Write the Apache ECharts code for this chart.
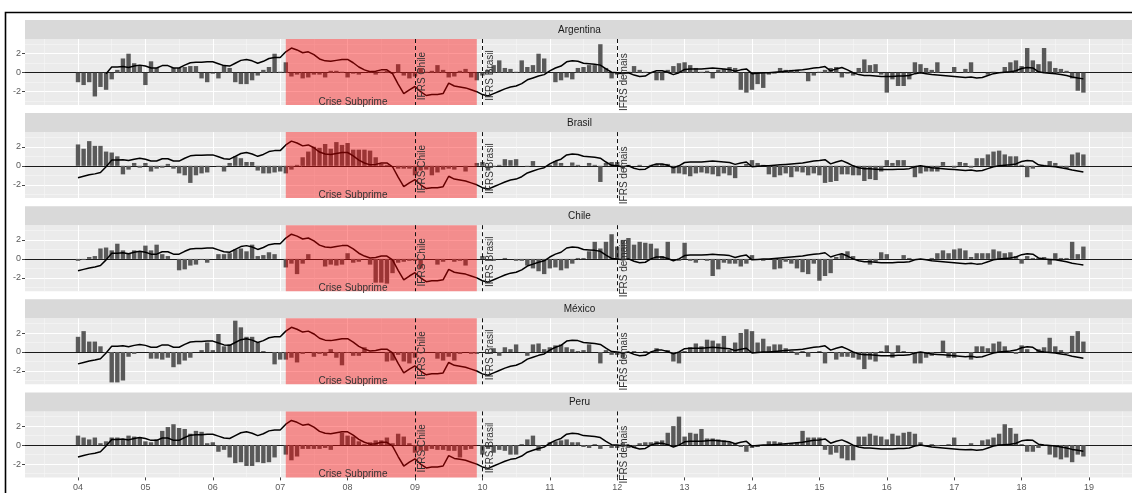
<!DOCTYPE html>
<html><head><meta charset="utf-8">
<script src="https://cdn.jsdelivr.net/npm/echarts@6/dist/echarts.min.js"></script>
<style>html,body{margin:0;padding:0;background:#fff}#c{width:1132px;height:493px}</style>
</head><body><div id="c"></div>
<script>
// ---------------- data ----------------
const countries = ['Argentina', 'Brasil', 'Chile', 'México', 'Peru'];
const firstYear = 2004;           // monthly data, Jan 2004 .. Dec 2018
const nMonths = 180;
const yearTicks = [2004,2005,2006,2007,2008,2009,2010,2011,2012,2013,2014,2015,2016,2017,2018,2019];
const yearLabels = ['04','05','06','07','08','09','10','11','12','13','14','15','16','17','18','19'];
const yMajorTicks = [-2, 0, 2];
const yMinorTicks = [-3, -1, 1, 3];

const argentina = [
 -1.0,-1.3,-1.0,-2.5,-1.5,-1.8,-0.7, 0.3, 1.5, 2.0, 1.0, 0.8,
 -1.3, 1.2, 0.5, 0.0, 0.0, 0.5, 0.5, 0.6, 0.7, 0.7,-0.6,-1.0,
 -0.1,-0.6, 0.8, 0.5,-1.0,-1.2,-1.2,-0.8,-0.3, 0.3, 0.6, 2.0,
  0.1, 1.1,-0.4,-0.2,-0.6,-0.5,-0.2,-0.2,-0.5, 0.2, 0.2, 0.1,
 -0.5,-0.1,-0.2, 0.0, 0.2,-0.2, 0.1, 0.2,-0.1, 0.9,-0.3,-0.6,
 -0.4, 0.5, 0.1, 0.2, 0.8, 0.3,-0.5,-0.4, 0.2, 0.4,-0.5,-0.8,
 -0.3, 0.3, 0.8, 1.3, 0.5, 0.4, 0.1, 1.3, 0.6, 0.8, 2.0, 1.5,
  0.0,-1.0,-0.8,-0.5,-0.7, 0.5, 0.6, 0.8, 0.8, 3.0, 0.5,-0.6,
 -0.2, 0.0, 0.1, 0.7, 0.3, 0.1, 0.0,-0.8,-0.8, 0.3, 0.7, 1.0,
  1.1, 0.8, 0.5, 0.1, 0.2,-0.6, 0.3, 0.4, 0.6, 0.5,-1.8,-2.1,
 -1.8,-1.2,-1.6,-0.2,-0.1, 0.5, 0.3, 0.3, 0.3, 0.1,-0.9,-0.3,
  0.1, 0.3, 0.5, 0.6,-0.5,-0.1,-0.3, 0.5, 1.4, 0.8, 0.9,-0.2,
 -2.1,-0.7,-1.4,-1.4,-0.7, 1.1, 0.9, 0.5, 0.3, 1.1, 0.0, 0.0,
  0.6, 0.0, 0.4, 1.1, 0.0, 0.0,-0.2, 0.1, 0.0, 0.6, 1.1, 1.3,
  0.7, 2.6, 1.3, 0.9, 2.6, 1.2, 0.5, 0.4, 0.2,-0.6,-1.9,-2.1
];
const brasil = [
  2.25,1.8, 2.6, 2.1, 2.1, 1.5, 1.4, 1.0,-0.9,-0.4, 0.3,-0.2,
  0.3,-0.6,-0.3,-0.2, 0.2,-0.3,-0.8,-1.0,-1.8,-1.0,-0.8,-0.7,
  0.0,-0.1,-0.6, 0.3, 1.0, 0.8, 0.4, 0.4,-0.5,-0.8,-0.8,-0.7,
 -0.6,-0.8,-0.4, 0.1, 0.9, 1.5, 2.0, 1.9, 2.3, 1.8, 2.5, 2.2,
  2.4, 1.7, 1.7, 1.7, 1.6, 0.9, 0.2, 0.1, 0.0,-0.3,-0.3,-0.3,
 -1.0,-0.5,-0.4,-1.0,-0.7,-0.4,-0.3,-0.4, 0.0,-0.6, 0.0, 0.3,
  0.4,-0.5,-0.1, 0.1, 0.7, 0.6, 0.7, 0.0,-0.1, 0.5, 0.0, 0.0,
  0.1, 0.5, 0.3, 0.0, 0.35,0.1, 0.0, 0.3, 0.1,-1.7, 0.3, 0.4,
  0.4,-0.3, 0.1, 0.0, 0.1, 0.0, 0.1, 0.2, 0.2, 0.2,-0.8,-0.8,
 -0.9,-1.1,-0.8,-0.7,-0.8,-0.9,-1.1,-0.8,-1.0,-1.3, 0.0, 0.2,
  0.6, 0.3, 0.1,-0.9,-1.2,-1.0,-0.8,-1.2,-0.6,-0.7,-1.0,-0.8,
 -1.0,-1.8,-1.7,-1.6,-0.9,-0.9,-1.0,-1.0,-1.6,-1.4,-1.5,-0.6,
  0.6, 0.3, 0.6, 0.6, 0.0,-1.2,-0.8,-0.6,-0.6,-0.6, 0.4, 0.0,
 -0.2, 0.4, 0.3,-0.2, 0.8, 0.8, 1.2, 1.5, 1.6, 1.2, 1.0, 1.0,
  0.1,-1.2,-0.3, 0.0, 0.1, 0.5, 0.3,-0.1,-0.3, 1.2, 1.4, 1.2
];
const chile = [
 -0.2,-0.1, 0.2, 0.3, 1.1, 1.2, 0.9, 1.6, 0.9, 0.6, 0.9, 0.8,
  1.4, 0.9, 1.5, 0.5, 0.3, 0.0,-1.2,-1.1,-0.7,-0.6,-0.1,-0.4,
  0.0, 0.5, 0.5, 0.6, 1.0, 1.1, 0.8, 1.5, 0.3, 0.4, 0.7, 0.5,
  0.0,-0.9,-0.5,-1.6,-0.5, 0.5, 0.0, 0.0,-0.8,-0.6,-0.7,-0.6,
  0.6,-0.4,-0.3, 0.0,-0.6,-2.5,-2.5,-2.6,-1.5,-0.4,-0.3,-0.2,
 -0.2,-1.0, 0.0, 0.0,-0.6,-0.3, 0.0,-0.3,-0.2,-0.7, 0.0, 0.0,
  0.3, 0.0,-0.2, 0.0, 0.1, 0.0,-0.2,-0.2,-0.7,-1.0,-1.3,-1.6,
 -1.0,-0.9,-1.2,-1.0,-0.5, 0.1, 0.1, 0.8, 1.8, 1.1, 1.8, 2.6,
  1.3, 2.0, 2.2, 1.5, 1.8, 1.7, 1.6, 1.1, 0.3, 1.8, 0.0,-0.2,
  1.7,-0.2,-0.4,-0.1,-0.2,-1.8,-1.1,-0.4,-0.5,-0.5,-0.8,-0.5,
  0.4, 0.0,-0.2, 0.0,-1.1,-1.0,-0.3,-0.5,-1.0,-1.4,-1.6,-0.5,
 -2.3,-1.8,-1.5, 0.2, 0.5, 0.8, 0.3, 0.0, 0.0,-0.6,-0.3, 0.7,
  0.5, 0.0, 0.0, 0.4, 0.1,-0.1, 0.0, 0.0, 0.1, 0.6, 0.9, 0.6,
  1.0, 1.1, 0.9, 0.2, 0.6, 0.6, 0.6, 1.0, 0.8, 0.6, 0.7, 0.3,
 -0.5, 0.3, 0.1, 0.1, 0.2,-0.6, 0.6, 0.1, 0.1, 1.8, 0.5, 1.3
];
const mexico = [
  1.6, 2.2, 1.1, 1.1, 0.6,-0.1,-3.2,-3.2,-3.0,-0.5,-0.2, 0.0,
  0.0,-0.7,-0.7,-0.8,-0.6,-1.6,-1.3,-0.9,-0.6, 0.0, 0.2, 1.0,
  0.2, 1.9, 0.6, 0.8, 3.3, 2.6, 1.6, 1.6, 1.0, 0.1, 0.0,-1.3,
 -0.8,-0.8,-0.6,-1.1,-0.2, 0.0,-0.5,-0.2,-0.4, 0.3,-0.6,-1.4,
 -0.1,-0.4,-0.4, 0.5, 0.0, 0.0, 0.0,-1.0,-0.9,-0.3,-1.0,-1.2,
 -0.6, 0.0, 0.0, 0.0,-0.7,-0.9,-0.5,-0.9,-0.2, 0.0,-0.2,-0.2,
  0.0,-0.2, 0.4,-0.4, 0.5, 0.3, 0.8, 0.0,-0.4, 0.8, 0.9, 0.3,
  0.5, 0.7, 0.8, 0.5, 0.3, 0.1, 0.2, 0.8, 0.0,-1.2, 0.2,-0.3,
 -0.3,-0.6,-0.1, 0.1, 0.0, 0.1, 0.0, 0.4, 0.0, 0.2,-1.0,-1.2,
  0.1, 0.5, 0.9, 0.6, 1.3, 1.2, 0.9, 1.7, 0.2, 1.0, 2.0, 2.4,
  2.2, 1.0, 1.4, 0.6, 0.8, 0.8, 0.4, 0.1,-0.3, 0.1,-0.5, 0.0,
  0.1,-1.2, 0.0,-0.8,-0.5,-0.5,-0.6,-0.8,-1.8,-0.8,-1.0, 0.1,
  0.7,-0.6, 0.7, 0.1, 0.0,-1.2,-1.2,-0.6,-0.4, 0.0, 1.2,-0.6,
 -0.6, 0.0, 0.0,-0.8, 0.6, 0.6, 0.4, 0.9, 1.1, 0.6, 0.0,-0.2,
  0.7, 0.3, 0.0, 0.3, 0.5, 1.5, 0.6, 0.2,-0.2, 1.7, 2.2, 1.1
];
const peru = [
  1.0, 0.8, 0.6, 0.8, 0.2, 0.4, 0.8, 0.8, 0.6, 1.0, 0.9, 0.8,
  0.4, 0.3, 0.6, 1.5, 1.9, 2.2, 1.8, 1.7, 1.2, 1.5, 1.4, 0.2,
  0.3,-0.7,-0.5,-1.3,-1.9,-1.8,-2.2,-2.2,-1.8,-1.9,-1.8,-1.3,
  0.0,-1.0,-1.6,-1.2,-0.4,-0.4,-0.4,-0.4,-0.3,-0.5, 0.0, 1.3,
  1.0, 0.9, 0.4, 0.1, 0.3, 0.5, 0.5, 0.8, 0.2, 1.2, 0.9, 0.2,
 -0.8,-0.6,-0.6,-0.4,-0.5,-0.5,-0.6,-0.6,-1.3,-0.5,-0.4, 0.0,
 -1.0,-0.4,-0.8,-0.5,-0.6,-1.0,-1.0, 0.1, 0.6, 1.0,-0.6, 0.0,
  0.3, 0.4, 0.5, 0.6, 0.3, 0.3,-0.2,-0.3, 0.1,-0.4, 0.0,-0.3,
 -0.3, 0.2,-0.3,-0.3, 0.2, 0.3, 0.3, 0.4, 0.5, 1.3, 2.0, 3.0,
  0.9, 1.3, 1.2, 1.7, 0.7, 0.7, 0.6, 0.5, 0.3, 0.2,-0.2,-0.7,
 -0.3,-0.2, 0.0, 0.4, 0.4, 0.3, 0.1, 0.2, 0.3, 1.5, 0.8, 0.8,
  0.8,-0.5,-1.0,-0.8,-1.4,-1.6,-1.6, 0.9, 0.9, 1.2, 1.0, 0.9,
  0.6, 1.2, 1.0, 1.3, 1.4, 1.2, 0.3, 0.0, 0.1,-0.1, 0.0, 0.1,
  0.8, 0.0, 0.0, 0.2, 0.0, 0.5, 0.6, 0.8, 1.2, 2.2, 1.8, 1.2,
  0.1,-0.7,-0.7,-0.3, 0.0,-1.0,-1.3,-1.5,-1.3,-1.8,-1.0,-1.2
];
// black line (same index drawn in every panel)
const indexLine = [
 -1.25,-1.1,-0.95,-0.85,-0.7,-0.1, 0.6, 0.6, 0.65, 0.55, 0.7, 0.8,
  0.7, 0.5, 0.5, 0.75, 0.75, 0.5, 0.5, 0.8, 1.05, 1.1, 1.1, 1.15,
  1.15, 0.95, 0.75, 0.7, 1.0, 1.3, 1.4, 1.25, 1.0, 1.2, 1.5, 1.6,
  1.6, 2.2, 2.6, 2.4, 2.1, 2.2, 1.9, 1.45, 1.25, 1.2, 1.3, 1.4,
  1.4, 1.05, 0.6, 0.3, 0.1, 0.15, 0.3, 0.3,-0.1,-1.2,-2.2,-1.8,
 -1.45,-2.0,-2.4,-2.3,-2.3,-2.2,-1.1,-1.4,-1.5,-1.6,-1.8,-2.0,
 -2.3,-2.45,-2.2,-1.95,-1.7,-1.5,-1.4,-1.15,-0.75,-0.55,-0.35,-0.2,
  0.2, 0.5, 0.7, 1.15, 1.25, 1.2, 1.0, 0.95, 0.9, 0.8, 0.4, 0.05,
  0.0,-0.1, 0.0,-0.25,-0.4,-0.35, 0.0, 0.2, 0.2, 0.05,-0.2, 0.0,
  0.35, 0.4, 0.4, 0.4, 0.45, 0.5, 0.45, 0.4, 0.35, 0.15, 0.3, 0.4,
 -0.1,-0.05, 0.0, 0.0, 0.05, 0.1, 0.15, 0.2, 0.25, 0.3, 0.4, 0.5,
  0.55, 0.65, 0.2, 0.4, 0.55, 0.3, 0.0,-0.2,-0.3,-0.3,-0.35,-0.4,
 -0.4,-0.4,-0.35,-0.35,-0.3,-0.1, 0.0,-0.1,-0.2,-0.25,-0.3,-0.35,
 -0.4,-0.45,-0.5,-0.45,-0.55,-0.5,-0.3,-0.1, 0.0, 0.05, 0.1, 0.2,
  0.45, 0.55, 0.5, 0.1, 0.0,-0.05,-0.1,-0.2,-0.3,-0.45,-0.55,-0.65
];
const lineStartByCountry = [5, 0, 0, 0, 0];   // Argentina's line begins later
const barSeries = [argentina, brasil, chile, mexico, peru];

const crisisPeriod = [2007.083, 2009.917];
const crisisLabel = 'Crise Subprime';
const crisisLabelPos = [2008.08, -3.12];
const ifrsDates = [2009, 2010, 2012];
const ifrsLabels = ['IFRS Chile', 'IFRS Brasil', 'IFRS demais'];
const ifrsLabelY = [-0.35, -0.3, -1.0];

// ---------------- layout ----------------
const FONT = '"Liberation Sans", Arial, sans-serif';
const X0 = 25, PW = 1109;                 // panel left / width (px)
const PX_PER_YEAR = 67.4;
const XMIN = 2004 - 53 / PX_PER_YEAR;
const XMAX = XMIN + PW / PX_PER_YEAR;
const YMIN = -3.4, YMAX = 3.55;
const STRIP_TOP = 20, STRIP_H = 19, PLOT_H = 66, PERIOD = 93.1;

const months = Array.from({length: nMonths}, (_, i) => firstYear + i / 12);
const halfYears = yearTicks.map(y => y - 0.5).concat([2019.5]);

const grids = [], xAxes = [], yAxes = [], series = [], graphics = [];
countries.forEach((name, k) => {
  const stripTop = STRIP_TOP + k * PERIOD;
  const plotTop = stripTop + STRIP_H;
  grids.push({left: X0, top: plotTop, width: PW, height: PLOT_H, show: true,
    backgroundColor: '#EBEBEB', borderWidth: 0, containLabel: false, outerBoundsMode: 'none'});
  graphics.push({type: 'rect', x: X0, y: stripTop, shape: {x: 0, y: 0, width: PW, height: STRIP_H},
    style: {fill: '#D9D9D9'}, silent: true});
  graphics.push({type: 'text', x: X0 + PW / 2, y: stripTop + STRIP_H / 2 + 0.5,
    style: {text: name, fill: '#1A1A1A', font: '10px ' + FONT, align: 'center', verticalAlign: 'middle',
            textAlign: 'center', textVerticalAlign: 'middle'}, silent: true});

  const xi = xAxes.length;
  xAxes.push({type: 'value', gridIndex: k, min: XMIN, max: XMAX, position: 'top',
    axisLine: {show: true, onZero: true, lineStyle: {color: '#1a1a1a', width: 1}},
    axisTick: {show: false, customValues: yearTicks}, axisLabel: {show: false},
    splitLine: {show: true, lineStyle: {color: '#FFFFFF', width: 1.1}}});
  xAxes.push({type: 'value', gridIndex: k, min: XMIN, max: XMAX, position: 'top',
    axisLine: {show: false, onZero: false}, axisTick: {show: false, customValues: halfYears},
    axisLabel: {show: false}, splitLine: {show: true, lineStyle: {color: '#F7F7F7', width: 0.6}}});
  if (k === countries.length - 1) {
    xAxes.push({type: 'value', gridIndex: k, min: XMIN, max: XMAX, position: 'bottom',
      axisLine: {show: false, onZero: false},
      axisTick: {show: true, customValues: yearTicks, length: 3, lineStyle: {color: '#444', width: 1}},
      axisLabel: {show: true, customValues: yearTicks, margin: 6, color: '#5a5a5a', fontSize: 9, fontFamily: FONT,
        formatter: v => yearLabels[yearTicks.indexOf(Math.round(v))]},
      splitLine: {show: false}});
  }
  const yi = yAxes.length;
  yAxes.push({type: 'value', gridIndex: k, min: YMIN, max: YMAX, position: 'left',
    axisLine: {show: false},
    axisTick: {show: true, customValues: yMajorTicks, length: 3, lineStyle: {color: '#444', width: 1}},
    axisLabel: {show: true, customValues: yMajorTicks, margin: 4, color: '#5a5a5a', fontSize: 9, fontFamily: FONT},
    splitLine: {show: true, lineStyle: {color: '#FFFFFF', width: 1.1}}});
  yAxes.push({type: 'value', gridIndex: k, min: YMIN, max: YMAX, position: 'right',
    axisLine: {show: false}, axisTick: {show: false, customValues: yMinorTicks}, axisLabel: {show: false},
    splitLine: {show: true, lineStyle: {color: '#F7F7F7', width: 0.6}}});

  const vals = barSeries[k];
  series.push({type: 'bar', xAxisIndex: xi, yAxisIndex: yi, barWidth: 4.4, z: 2, silent: true,
    itemStyle: {color: '#595959'}, data: months.map((m, i) => [m, vals[i]])});
  series.push({type: 'line', xAxisIndex: xi, yAxisIndex: yi, z: 3, silent: true, showSymbol: false,
    symbol: 'none', connectNulls: false, lineStyle: {color: '#000', width: 1.5},
    data: months.map((m, i) => [m, i < lineStartByCountry[k] ? null : indexLine[i]])});
  // crisis rectangle (semi transparent red, on top of bars & line)
  series.push({type: 'custom', xAxisIndex: xi, yAxisIndex: yi, z: 4, silent: true,
    encode: {x: [0, 1]}, data: [crisisPeriod],
    renderItem: (params, api) => {
      const cs = params.coordSys;
      const a = api.coord([api.value(0), 0])[0];
      const b = api.coord([api.value(1), 0])[0];
      return {type: 'rect', shape: {x: a, y: cs.y, width: b - a, height: cs.height},
        style: {fill: 'rgba(255,0,0,0.4)'}};
    }});
  // dashed IFRS lines
  series.push({type: 'custom', xAxisIndex: xi, yAxisIndex: yi, z: 5, silent: true,
    encode: {x: 0}, data: ifrsDates.map(d => [d]),
    renderItem: (params, api) => {
      const cs = params.coordSys;
      const x = Math.round(api.coord([api.value(0), 0])[0]) + 0.5;
      return {type: 'line', shape: {x1: x, y1: cs.y, x2: x, y2: cs.y + cs.height},
        style: {stroke: '#111', lineWidth: 1, lineDash: [4, 3]}};
    }});
  // IFRS rotated labels
  series.push({type: 'custom', xAxisIndex: xi, yAxisIndex: yi, z: 6, silent: true, clip: false,
    encode: {x: 0, y: 1}, data: ifrsDates.map((d, j) => [d, ifrsLabelY[j]]),
    renderItem: (params, api) => {
      const p = api.coord([api.value(0), api.value(1)]);
      return {type: 'text', x: p[0] + 7.5, y: p[1], rotation: Math.PI / 2,
        style: {text: ifrsLabels[params.dataIndex], fill: '#333', font: '10px ' + FONT,
          align: 'center', verticalAlign: 'middle'}};
    }});
  // crisis label
  series.push({type: 'custom', xAxisIndex: xi, yAxisIndex: yi, z: 6, silent: true, clip: false,
    encode: {x: 0, y: 1}, data: [crisisLabelPos],
    renderItem: (params, api) => {
      const p = api.coord([api.value(0), api.value(1)]);
      return {type: 'text', x: p[0], y: p[1],
        style: {text: crisisLabel, fill: '#333', font: '10px ' + FONT, align: 'center', verticalAlign: 'middle'}};
    }});
});
// outer frame
graphics.push({type: 'rect', shape: {x: 5.5, y: 12.5, width: 1140, height: 500},
  style: {fill: 'none', stroke: '#000', lineWidth: 1.6}, silent: true, z: 100});

const chart = echarts.init(document.getElementById('c'), null, {renderer: 'canvas'});
chart.setOption({
  animation: false,
  backgroundColor: '#FFFFFF',
  textStyle: {fontFamily: FONT},
  grid: grids, xAxis: xAxes, yAxis: yAxes, series: series,
  graphic: {elements: graphics}
});
</script></body></html>
